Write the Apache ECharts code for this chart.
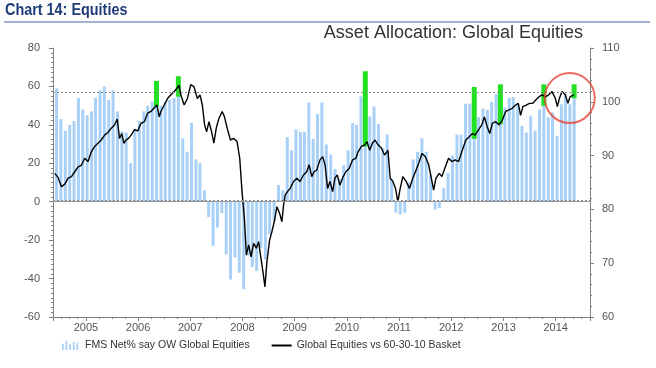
<!DOCTYPE html>
<html><head><meta charset="utf-8">
<script src="https://cdn.jsdelivr.net/npm/echarts@6/dist/echarts.min.js"></script>
<style>html,body{margin:0;padding:0;background:#fff}#c{width:656px;height:368px}</style>
</head><body><div id="c"></div>
<script>
// ---- DATA ----
// Monthly FMS bars, first month June 2004, last May 2014 (120 months)
const barFirstMonth = '2004-06';
const fmsNetOW = [
 59,43,37,40,42,54,48,45,47,54,58,60,
 53,58,47,36.5,36,20,38,42,47,50,52,55,
 50,52,53,54,57,33,26,41,22,20,6,-8,
 -23,-13.5,-6,-27.5,-40.5,-29,-37,-45.5,-28,-34,-36,-24,
 -30,-17,-10,8.7,6,33.6,26.7,37.6,36.4,36.4,51.6,32.7,
 45.7,51.6,29.8,24.6,17,12,19,26.7,40.9,40,54.8,55,
 44.4,49.6,40.5,28,35,12,-5.7,-6.6,-5.7,10,22,26,
 33,26,14,-4.2,-3.3,7,15,24,35,35,51,51,
 52,44,48.5,47.8,52,56,55,49,54,54.5,50,39.5,
 36,44.7,37,48,55,44,46.4,34.3,50.7,56,50.7,55
];
// Green highlight bars (left axis units)
const greenMonths = ['2006-05','2006-10','2010-05','2012-06','2012-12','2013-10','2014-05'];
const greenTop    = [62.9, 65.3, 67.9, 59.7, 61.1, 61.1, 61.1];
const greenBottom = [49.5, 54.7, 28.7, 32.7, 40.4, 49.9, 53.9];
// Line: Global Equities vs 60-30-10 Basket (right axis), dates as decimal years
const lineYears = [
 2004.406,2004.470,2004.533,2004.597,2004.660,2004.724,2004.787,2004.851,2004.914,2004.978,
 2005.041,2005.105,2005.168,2005.232,2005.295,2005.359,2005.422,2005.486,2005.549,2005.600,
 2005.645,2005.689,2005.727,2005.772,2005.816,2005.867,2005.930,2005.994,2006.057,2006.121,
 2006.184,2006.248,2006.311,2006.362,2006.406,2006.438,2006.502,2006.565,2006.629,2006.692,
 2006.756,2006.787,2006.819,2006.883,2006.946,2007.010,2007.073,2007.137,2007.187,2007.232,
 2007.276,2007.314,2007.359,2007.410,2007.454,2007.499,2007.549,2007.613,2007.657,2007.708,
 2007.771,2007.835,2007.898,2007.949,2007.993,2008.038,2008.076,2008.120,2008.165,2008.215,
 2008.266,2008.311,2008.355,2008.393,2008.431,2008.469,2008.520,2008.565,2008.609,2008.660,
 2008.711,2008.755,2008.787,2008.819,2008.863,2008.914,2008.977,2009.041,2009.104,2009.168,
 2009.231,2009.276,2009.327,2009.371,2009.422,2009.485,2009.536,2009.581,2009.631,2009.676,
 2009.727,2009.771,2009.815,2009.866,2009.930,2009.981,2010.044,2010.108,2010.171,2010.215,
 2010.279,2010.343,2010.387,2010.438,2010.489,2010.539,2010.597,2010.660,2010.723,2010.787,
 2010.831,2010.882,2010.933,2010.977,2011.022,2011.073,2011.136,2011.200,2011.263,2011.314,
 2011.378,2011.441,2011.505,2011.568,2011.619,2011.663,2011.708,2011.771,2011.822,2011.886,
 2011.949,2012.013,2012.076,2012.140,2012.203,2012.279,2012.343,2012.406,2012.457,2012.521,
 2012.584,2012.635,2012.686,2012.737,2012.787,2012.851,2012.914,2012.978,2013.041,2013.105,
 2013.168,2013.232,2013.283,2013.327,2013.371,2013.435,2013.498,2013.562,2013.613,2013.676,
 2013.740,2013.803,2013.867,2013.930,2013.994,2014.032,2014.070,2014.121,2014.184,2014.235,
 2014.273,2014.311,2014.349
];
const lineValues = [
 86.7,85.9,84.2,84.7,85.8,86.1,87.0,87.9,88.2,89.5,
 88.9,90.7,91.7,92.3,92.9,93.8,94.3,95.1,95.7,96.8,
 93.2,94.1,92.3,92.9,93.2,93.8,94.8,94.6,96.0,96.3,
 97.9,98.2,98.9,99.4,97.2,98.2,99.4,100.6,101.3,101.9,
 102.6,103.1,101.3,99.4,100.6,103.2,102.8,100.6,101.3,99.4,
 95.7,94.4,96.3,94.4,92.3,95.1,96.9,98.2,97.2,95.1,
 92.9,93.2,92.6,89.5,83.3,78.3,71.5,73.4,71.2,73.7,
 72.8,74.0,70.9,68.4,65.6,70.3,74.3,75.9,77.7,80.5,
 79.3,77.7,80.8,82.7,83.3,83.9,85.2,85.8,85.2,86.4,
 87.0,88.3,86.1,87.0,87.3,89.2,89.8,88.3,83.9,85.2,
 83.3,85.8,86.4,84.5,86.1,87.0,87.6,89.2,89.5,90.7,
 91.7,92.0,92.6,91.0,92.3,92.9,92.0,91.4,90.1,91.0,
 85.8,85.2,83.9,81.4,83.9,86.1,85.2,83.9,85.8,87.0,
 88.6,90.4,89.8,88.3,85.8,83.6,85.8,86.7,86.1,87.9,
 89.5,88.9,89.2,88.9,90.7,92.9,93.5,94.1,93.8,94.8,
 95.7,97.2,95.4,94.1,96.0,96.3,95.7,96.6,98.2,98.5,
 98.8,99.4,99.7,97.5,99.1,99.4,99.7,99.7,100.3,100.9,
 101.3,100.9,101.3,101.9,100.6,99.1,100.6,101.9,101.3,99.7,
 100.9,100.6,101.3
];
const leftTicks = {min:-60, max:80, interval:20};
const rightTicks = {min:60, max:110, interval:10};
const bandLines = [57, 1];
const circleAt = [2014.27, 100.7];
const barName = 'FMS Net% say OW Global Equities';
const lineName = 'Global Equities vs 60-30-10 Basket';

// ---- helpers ----
function decYearTs(y){const yr=Math.floor(y);const s=new Date(yr,0,1).getTime(),e=new Date(yr+1,0,1).getTime();return s+(y-yr)*(e-s);}
function monthTs(ym){return new Date(+ym.slice(0,4), +ym.slice(5,7)-1, 10).getTime();}
function addMonths(ym,k){let y=+ym.slice(0,4),m=+ym.slice(5,7)-1+k;y+=Math.floor(m/12);m=((m%12)+12)%12;return y+'-'+String(m+1).padStart(2,'0');}

const barData = fmsNetOW.map((v,i)=>[monthTs(addMonths(barFirstMonth,i)), v]);
const greenData = greenMonths.map((m,i)=>[monthTs(m), greenTop[i], greenBottom[i]]);
const lineData = lineYears.map((y,i)=>[decYearTs(y), lineValues[i]]);

const font = "'Liberation Sans', Arial, sans-serif";
const chart = echarts.init(document.getElementById('c'), null, {renderer:'canvas'});
chart.setOption({
  animation:false,
  backgroundColor:'#fff',
  graphic:[
    {type:'text', x:5, y:3, scaleX:0.9, style:{text:'Chart 14: Equities', font:"bold 16px 'Liberation Sans Narrow','Arial Narrow','Liberation Sans',sans-serif", fill:'#1f3c78'}},
    {type:'rect', shape:{x:4,y:21,width:646,height:2}, style:{fill:'#a3b3cf'}},
    {type:'text', right:73, top:24, style:{text:'Asset Allocation: Global Equities', font:"18px 'Liberation Sans', Arial, sans-serif", fill:'#333'}}
  ],
  grid:{left:53, right:66, top:48, bottom:51},
  legend:{
    left:57, top:335, itemWidth:20, itemHeight:9, itemGap:22,
    textStyle:{fontFamily:font, fontSize:10.5, color:'#333'},
    data:[
      {name:barName, icon:'path://M0,3h2v7H0z M4,0h2v10H4z M8,3h2v7H8z M12,1h2v9h-2z M16,2h2v8h-2z'},
      {name:lineName, icon:'path://M0,4h20v2H0z'}
    ]
  },
  xAxis:{
    type:'time', min:decYearTs(2004.40), max:decYearTs(2014.629),
    minInterval:365*86400000, maxInterval:366*86400000,
    axisLine:{onZero:false, lineStyle:{color:'#808080'}},
    axisTick:{show:true, length:4, lineStyle:{color:'#808080'}},
    minorTick:{show:true, splitNumber:4, length:2, lineStyle:{color:'#808080'}},
    splitLine:{show:false},
    axisLabel:{formatter:'{yyyy}', fontFamily:font, fontSize:11, color:'#555', margin:5}
  },
  yAxis:[
    {type:'value', position:'left', min:leftTicks.min, max:leftTicks.max, interval:leftTicks.interval,
     axisLine:{show:true, lineStyle:{color:'#808080'}},
     axisTick:{show:true, length:4, lineStyle:{color:'#808080'}},
     minorTick:{show:true, splitNumber:8, length:2, lineStyle:{color:'#808080'}},
     splitLine:{show:false},
     axisLabel:{fontFamily:font, fontSize:11, color:'#555', margin:13}},
    {type:'value', position:'right', min:rightTicks.min, max:rightTicks.max, interval:rightTicks.interval,
     axisLine:{show:true, lineStyle:{color:'#808080'}},
     axisTick:{show:true, length:4, lineStyle:{color:'#808080'}},
     minorTick:{show:true, splitNumber:5, length:2, lineStyle:{color:'#808080'}},
     splitLine:{show:false},
     axisLabel:{fontFamily:font, fontSize:11, color:'#555', margin:12}}
  ],
  series:[
    {name:barName, type:'bar', yAxisIndex:0, data:barData, barWidth:3,
     itemStyle:{color:'#a9d1f7'},
     markLine:{silent:true, symbol:'none', label:{show:false},
       data:[
         {yAxis:bandLines[0], lineStyle:{color:'#8c8c8c', type:[2,2], width:1}},
         {yAxis:bandLines[1], lineStyle:{color:'#8c8c8c', type:[2,2], width:1}},
         {yAxis:0, lineStyle:{color:'#999', type:'solid', width:1}}
       ]}},
    {name:'green', type:'custom', yAxisIndex:0, data:greenData, encode:{x:0,y:[1,2]},
     renderItem:function(params, api){
       const t=api.value(0), p1=api.coord([t, api.value(1)]), p2=api.coord([t, api.value(2)]);
       return {type:'rect', shape:{x:p1[0]-2.5, y:p1[1], width:5, height:p2[1]-p1[1]}, style:{fill:'#22e022'}};
     }, z:3},
    {name:lineName, type:'line', yAxisIndex:1, data:lineData, showSymbol:false, symbol:'none',
     lineStyle:{color:'#000', width:1.4}, itemStyle:{color:'#000'}, z:4},
    {name:'circle', type:'scatter', yAxisIndex:1, data:[[decYearTs(circleAt[0]), circleAt[1]]],
     symbol:'circle', symbolSize:50, silent:true,
     itemStyle:{color:'rgba(0,0,0,0)', borderColor:'#e5463b', borderWidth:2}, z:5}
  ]
});
</script></body></html>
